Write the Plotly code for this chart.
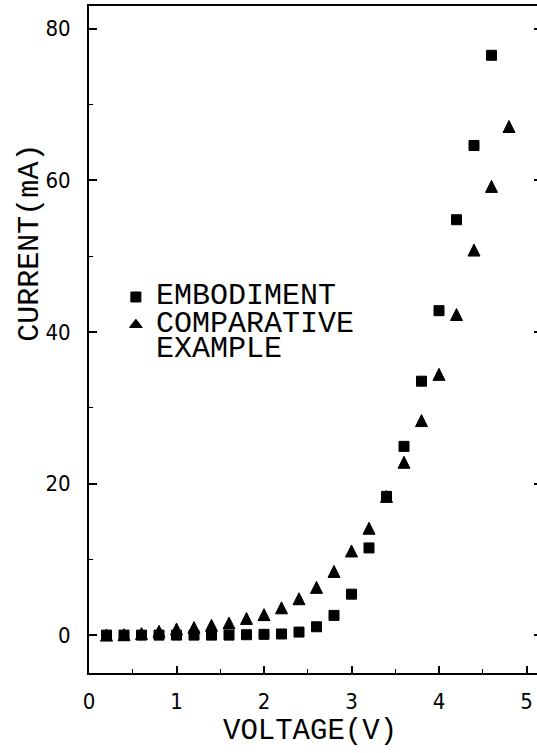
import plotly.graph_objects as go

# ---- data ----
voltage_emb = [0.2, 0.4, 0.6, 0.8, 1.0, 1.2, 1.4, 1.6, 1.8, 2.0, 2.2, 2.4,
               2.6, 2.8, 3.0, 3.2, 3.4, 3.6, 3.8, 4.0, 4.2, 4.4, 4.6]
current_emb = [0.0, 0.0, 0.0, 0.0, 0.0, 0.0, 0.0, 0.0, 0.05, 0.1, 0.15, 0.4,
               1.1, 2.6, 5.4, 11.5, 18.3, 24.9, 33.5, 42.8, 54.8, 64.6, 76.5]

voltage_cmp = [0.2, 0.4, 0.6, 0.8, 1.0, 1.2, 1.4, 1.6, 1.8, 2.0, 2.2, 2.4,
               2.6, 2.8, 3.0, 3.2, 3.4, 3.6, 3.8, 4.0, 4.2, 4.4, 4.6, 4.8]
current_cmp = [0.0, 0.05, 0.2, 0.5, 0.8, 1.0, 1.3, 1.6, 2.2, 2.7, 3.6, 4.8,
               6.3, 8.4, 11.1, 14.1, 18.3, 22.8, 28.3, 34.4, 42.3, 50.8, 59.2, 67.1]

series_names = ["EMBODIMENT", "COMPARATIVE<br>EXAMPLE"]
x_ticks = [0, 1, 2, 3, 4, 5]
y_ticks = [0, 20, 40, 60, 80]
x_title = "VOLTAGE(V)"
y_title = "CURRENT(mA)"

TITLE_FONT = "Liberation Mono, DejaVu Sans Mono, monospace"
TICK_FONT = "Liberation Sans Narrow, DejaVu Sans Condensed, Liberation Sans, sans-serif"


def big(label):
    return "<br>".join("<span style='font-size:30px'>" + p + "</span>" for p in label.split("<br>"))


fig = go.Figure()

# upward triangle built from a rotated arrow so that its box is centred on the point
fig.add_trace(go.Scatter(
    x=voltage_cmp, y=current_cmp, mode="markers",
    name=series_names[1], showlegend=False, legendgroup="cmp",
    marker=dict(symbol="arrow-down", angle=180, standoff=6, size=12, color="black",
                line=dict(color="black", width=1)),
    yaxis="y2",
))
fig.add_trace(go.Scatter(
    x=voltage_emb, y=current_emb, mode="markers",
    name=big(series_names[0]), legendgroup="emb",
    marker=dict(symbol="square", size=10, color="black",
                line=dict(color="black", width=1)),
))
# legend entry for the triangle series (no data of its own)
fig.add_trace(go.Scatter(
    x=[None], y=[None], mode="markers",
    name=big(series_names[1]), legendgroup="cmp",
    marker=dict(symbol="triangle-up", size=11, color="black",
                line=dict(color="black", width=1)),
))

fig.update_layout(
    width=537, height=753,
    margin=dict(l=89, r=0, t=6, b=80),
    paper_bgcolor="white", plot_bgcolor="white",
    showlegend=True,
    legend=dict(
        x=0.06, y=0.592, xanchor="left", yanchor="top",
        bgcolor="rgba(0,0,0,0)", borderwidth=0,
        font=dict(family=TITLE_FONT, size=19, color="black"),
        traceorder="normal", valign="top", tracegroupgap=0,
        itemwidth=30,
    ),
    xaxis=dict(
        range=[0, 5.12], tickvals=x_ticks, ticktext=[str(v) for v in x_ticks],
        showgrid=False, zeroline=False,
        showline=True, linecolor="black", linewidth=2, mirror=True,
        ticks="inside", ticklen=7, tickwidth=1.5, tickcolor="black",
        minor=dict(ticks="inside", ticklen=4, tickwidth=1.2, dtick=0.5, tick0=0, tickcolor="black", showgrid=False),
        tickfont=dict(family=TICK_FONT, size=22, color="black"),
        ticklabelstandoff=8,
    ),
    yaxis=dict(
        range=[-5, 83], tickvals=y_ticks, ticktext=[str(v) for v in y_ticks],
        showgrid=False, zeroline=False,
        showline=True, linecolor="black", linewidth=2, mirror=False,
        ticks="inside", ticklen=8, tickwidth=1.5, tickcolor="black",
        minor=dict(ticks="inside", ticklen=4, tickwidth=1.2, dtick=10, tick0=0, tickcolor="black", showgrid=False),
        tickfont=dict(family=TICK_FONT, size=22, color="black"),
        ticklabelstandoff=12,
    ),
    yaxis2=dict(
        overlaying="y", matches="y", side="right",
        tickvals=y_ticks, showticklabels=False,
        showgrid=False, zeroline=False, showline=False,
        ticks="inside", ticklen=3, tickwidth=1.5, tickcolor="black",
    ),
    annotations=[
        dict(text=x_title, xref="paper", yref="paper", x=0.493, y=-0.087,
             xanchor="center", yanchor="middle", showarrow=False,
             font=dict(family=TITLE_FONT, size=29, color="black")),
        dict(text=y_title, xref="paper", yref="paper", x=-0.132, y=0.645,
             xanchor="center", yanchor="middle", showarrow=False, textangle=-90,
             font=dict(family=TITLE_FONT, size=30, color="black")),
    ],
)

fig.write_html("out.html")
